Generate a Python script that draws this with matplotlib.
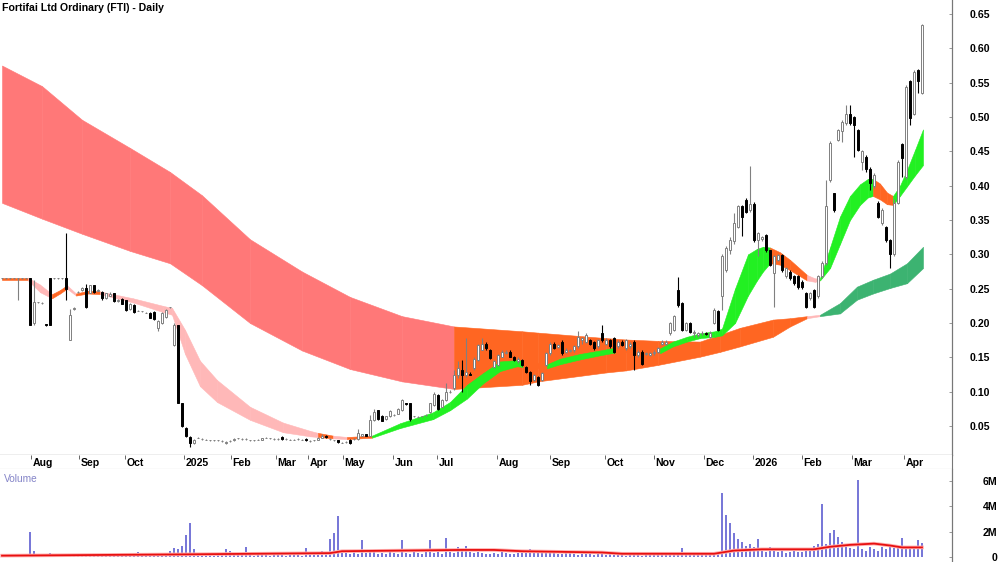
import matplotlib
matplotlib.use("Agg")
import matplotlib.pyplot as plt
from matplotlib.lines import Line2D
from matplotlib.ticker import FixedLocator, FuncFormatter

plt.rcParams["font.family"] = ["Liberation Sans", "DejaVu Sans"]

TITLE = "Fortifai Ltd Ordinary (FTI) - Daily"

# month labels and the bar index where each month starts
month_labels = ["Aug", "Sep", "Oct", "2025", "Feb", "Mar", "Apr", "May", "Jun", "Jul",
                "Aug", "Sep", "Oct", "Nov", "Dec", "2026", "Feb", "Mar", "Apr"]
month_pos = [7.25, 19.25, 30.75, 45.5, 57.25, 68.5, 76.5, 85.25, 97.75, 108.75,
             123.75, 137, 150.75, 163, 175.5, 187.75, 200, 212.5, 225.5]

price_ticks = [0.05, 0.10, 0.15, 0.20, 0.25, 0.30, 0.35, 0.40, 0.45, 0.50, 0.55, 0.60, 0.65]
vol_ticks = [0, 2, 4, 6]
vol_tick_labels = ["0", "2M", "4M", "6M"]

# daily candles, one entry per bar
opens = [
    .265, .265, .265, .265, .265, .265, .265, .265, .200, .230,  # 0
    .229, .198, .265, .265, .265, .265, .265, .175, .220, .245,  # 10
    .248, .251, .244, .255, .247, .245, .236, .240, .243, .232,  # 20
    .235, .233, .220, .226, .218, .217, .215, .215, .216, .193,  # 30
    .200, .209, .223, .168, .197, .083, .047, .034, .025, .033,  # 40
    .031, .030, .029, .029, .029, .028, .025, .028, .029, .032,  # 50
    .031, .031, .029, .029, .030, .030, .033, .032, .031, .031,  # 60
    .034, .031, .030, .030, .031, .030, .031, .028, .029, .030,  # 70
    .033, .036, .031, .029, .029, .026, .027, .030, .031, .031,  # 80
    .036, .038, .036, .059, .073, .065, .060, .064, .066, .068,  # 90
    .073, .083, .083, .064, .063, .064, .066, .070, .080, .095,  # 100
    .078, .088, .100, .105, .124, .132, .124, .126, .134, .146,  # 110
    .161, .170, .161, .136, .139, .151, .156, .158, .151, .144,  # 120
    .146, .136, .129, .117, .122, .117, .139, .156, .170, .165,  # 130
    .173, .158, .159, .160, .166, .175, .173, .175, .173, .166,  # 140
    .185, .170, .175, .178, .166, .173, .163, .166, .173, .153,  # 150
    .158, .155, .154, .156, .158, .170, .170, .185, .190, .248,  # 160
    .229, .190, .200, .185, .183, .185, .185, .180, .200, .217,  # 170
    .239, .277, .306, .319, .340, .370, .379, .365, .374, .321,  # 180
    .323, .328, .306, .273, .292, .299, .268, .275, .268, .268,  # 190
    .260, .243, .236, .248, .239, .268, .287, .408, .389, .467,  # 200
    .479, .491, .505, .500, .481, .435, .442, .425, .399, .375,  # 210
    .345, .340, .321, .300, .375, .460, .413, .552, .505, .568,  # 220
    .535,                                                        # 230
]
highs = [
    .266, .266, .266, .266, .265, .266, .266, .265, .263, .231,
    .230, .199, .265, .266, .266, .266, .331, .220, .223, .246,
    .253, .257, .256, .256, .249, .246, .244, .245, .244, .235,
    .236, .234, .229, .227, .219, .218, .216, .216, .217, .204,
    .216, .220, .224, .200, .197, .084, .048, .035, .031, .034,
    .032, .031, .030, .030, .030, .029, .028, .029, .032, .033,
    .032, .032, .030, .030, .031, .033, .034, .033, .032, .032,
    .035, .032, .031, .031, .032, .031, .032, .029, .030, .034,
    .039, .037, .032, .030, .030, .027, .028, .031, .032, .045,
    .039, .039, .066, .075, .074, .066, .065, .073, .067, .076,
    .090, .084, .084, .065, .064, .065, .067, .084, .100, .096,
    .089, .112, .102, .131, .144, .146, .178, .128, .150, .170,
    .178, .172, .162, .146, .155, .160, .160, .160, .152, .150,
    .147, .137, .130, .126, .123, .129, .158, .172, .172, .170,
    .175, .163, .162, .168, .188, .180, .185, .176, .174, .177,
    .197, .178, .176, .180, .175, .175, .177, .172, .175, .160,
    .160, .158, .158, .160, .165, .175, .175, .202, .212, .267,
    .230, .202, .201, .190, .187, .188, .187, .188, .222, .219,
    .300, .312, .325, .360, .372, .372, .382, .428, .376, .333,
    .327, .330, .307, .299, .301, .301, .282, .277, .270, .270,
    .262, .245, .245, .250, .270, .290, .408, .465, .390, .483,
    .495, .518, .518, .502, .483, .452, .444, .427, .418, .378,
    .367, .342, .322, .380, .437, .462, .546, .554, .568, .570,
    .636,
]
lows = [
    .264, .264, .264, .264, .233, .264, .264, .197, .197, .229,
    .228, .196, .197, .264, .264, .264, .233, .175, .219, .244,
    .246, .222, .243, .244, .246, .234, .235, .239, .231, .231,
    .227, .217, .219, .215, .217, .216, .214, .207, .205, .188,
    .199, .208, .222, .166, .083, .049, .034, .020, .024, .032,
    .030, .029, .028, .028, .028, .027, .024, .027, .028, .031,
    .030, .030, .028, .028, .029, .029, .032, .031, .030, .030,
    .030, .030, .029, .029, .030, .029, .028, .027, .028, .029,
    .032, .033, .030, .028, .026, .025, .026, .024, .030, .030,
    .035, .035, .035, .058, .059, .057, .059, .063, .065, .067,
    .072, .081, .058, .063, .062, .063, .065, .069, .079, .074,
    .077, .087, .098, .103, .120, .100, .122, .124, .132, .144,
    .160, .160, .147, .134, .137, .150, .155, .150, .145, .142,
    .137, .127, .110, .115, .108, .115, .137, .154, .162, .163,
    .154, .156, .158, .158, .164, .170, .171, .168, .161, .164,
    .173, .168, .164, .156, .164, .166, .161, .164, .131, .151,
    .139, .153, .152, .154, .156, .168, .168, .183, .188, .224,
    .188, .188, .185, .180, .180, .183, .182, .178, .198, .188,
    .219, .275, .300, .315, .338, .326, .360, .362, .318, .297,
    .320, .304, .283, .224, .290, .275, .266, .262, .255, .250,
    .250, .222, .234, .222, .237, .266, .285, .405, .362, .465,
    .464, .489, .489, .442, .450, .423, .420, .394, .396, .353,
    .343, .318, .280, .298, .373, .413, .410, .489, .503, .535,
    .533,
]
closes = [
    .265, .265, .265, .265, .265, .265, .265, .197, .230, .230,
    .229, .197, .197, .265, .265, .265, .250, .212, .222, .245,
    .251, .223, .255, .245, .248, .236, .243, .242, .232, .233,
    .228, .219, .228, .216, .218, .217, .215, .208, .206, .203,
    .214, .219, .223, .197, .083, .050, .035, .025, .030, .033,
    .031, .030, .029, .029, .029, .028, .027, .028, .031, .032,
    .031, .031, .029, .029, .030, .032, .033, .032, .031, .031,
    .031, .031, .030, .030, .031, .030, .029, .028, .029, .033,
    .036, .034, .031, .029, .027, .026, .027, .025, .031, .040,
    .038, .036, .059, .070, .060, .058, .064, .072, .066, .075,
    .088, .082, .060, .064, .063, .064, .066, .083, .097, .075,
    .088, .100, .100, .124, .134, .125, .128, .125, .148, .168,
    .170, .163, .149, .144, .153, .158, .158, .151, .146, .148,
    .139, .129, .115, .124, .110, .127, .156, .170, .163, .168,
    .156, .161, .160, .166, .180, .178, .183, .170, .163, .175,
    .175, .175, .166, .158, .173, .168, .175, .170, .153, .158,
    .141, .156, .156, .158, .163, .173, .172, .200, .210, .226,
    .190, .200, .187, .187, .185, .185, .184, .186, .219, .190,
    .297, .309, .321, .345, .370, .355, .362, .374, .321, .331,
    .325, .306, .285, .297, .299, .277, .280, .265, .258, .253,
    .253, .224, .243, .224, .268, .287, .370, .462, .365, .481,
    .493, .505, .491, .489, .452, .450, .425, .404, .416, .355,
    .365, .321, .300, .375, .435, .440, .544, .498, .566, .552,
    .634,
]

# daily volume in millions of shares
volume_m = [
    0.08, 0.05, 0.10, 0.06, 0.05, 0.08, 0.10, 2.00, 0.50, 0.15,
    0.10, 0.12, 0.30, 0.10, 0.08, 0.05, 0.20, 0.12, 0.10, 0.08,
    0.15, 0.10, 0.12, 0.08, 0.10, 0.15, 0.10, 0.12, 0.20, 0.10,
    0.08, 0.10, 0.15, 0.25, 0.40, 0.12, 0.10, 0.15, 0.20, 0.12,
    0.30, 0.15, 0.50, 0.70, 0.60, 0.90, 1.70, 2.70, 0.60, 0.30,
    0.20, 0.15, 0.20, 0.10, 0.15, 0.25, 0.60, 0.50, 0.30, 0.15,
    0.20, 0.80, 0.20, 0.10, 0.15, 0.20, 0.12, 0.10, 0.30, 0.15,
    0.20, 0.10, 0.12, 0.25, 0.15, 0.10, 0.70, 0.20, 0.15, 0.40,
    0.50, 0.30, 1.40, 1.90, 3.20, 0.50, 0.30, 0.20, 0.40, 0.25,
    1.30, 0.30, 0.40, 0.35, 0.25, 0.30, 0.20, 0.40, 0.30, 0.25,
    1.30, 0.30, 0.25, 0.40, 0.30, 0.20, 0.35, 1.30, 0.30, 0.40,
    0.25, 1.50, 0.40, 0.30, 0.80, 0.50, 0.90, 0.40, 0.30, 0.35,
    0.30, 0.20, 0.25, 0.30, 0.20, 0.35, 0.30, 0.25, 0.20, 0.30,
    0.40, 0.50, 0.60, 0.40, 0.55, 0.30, 0.45, 0.30, 0.50, 0.25,
    0.20, 0.30, 0.35, 0.20, 0.15, 0.25, 0.20, 0.30, 0.15, 0.20,
    0.25, 0.15, 0.20, 0.30, 0.15, 0.20, 0.10, 0.15, 0.20, 0.15,
    0.10, 0.20, 0.15, 0.25, 0.20, 0.15, 0.30, 0.20, 0.25, 0.30,
    0.70, 0.30, 0.20, 0.25, 0.30, 0.35, 0.30, 0.40, 0.30, 0.40,
    5.00, 3.30, 2.70, 1.90, 1.40, 1.20, 0.90, 1.00, 0.80, 1.40,
    0.50, 0.40, 0.80, 0.50, 0.40, 0.60, 0.30, 0.40, 0.50, 0.35,
    0.40, 0.50, 0.70, 0.90, 1.00, 4.20, 1.00, 1.90, 2.10, 1.60,
    1.20, 0.80, 0.70, 0.60, 6.10, 0.60, 0.50, 0.80, 0.60, 0.50,
    0.80, 0.60, 1.00, 0.70, 0.80, 1.50, 0.60, 0.90, 0.70, 1.30,
    1.10,
]

# volume moving average (millions)
vol_ma_x = [0, 45, 82, 85, 115, 123, 130, 150, 155, 178, 183, 190, 203, 207, 212, 218, 222, 225, 230]
vol_ma = [0.10, 0.20, 0.30, 0.45, 0.55, 0.55, 0.45, 0.35, 0.25, 0.25, 0.50, 0.60, 0.60, 0.80, 0.95, 1.05, 0.90, 0.75, 0.75]

# long-term moving average ribbon (upper / lower edge) and colour of each span
long_x = [0, 10, 20, 32, 42, 50, 62, 75, 87, 100, 113, 130, 134, 151, 156, 164, 174.5,
          179.5, 184.5, 192.75, 197, 201.25, 204.5, 209.5, 213.75, 217.75, 222, 226.25, 230.25]
long_top = [0.575, 0.545, 0.496, 0.455, 0.42, 0.386, 0.322, 0.275, 0.238, 0.21, 0.195, 0.188,
            0.186, 0.178, 0.176, 0.174, 0.173, 0.183, 0.193, 0.205, 0.207, 0.21, 0.212, 0.229,
            0.253, 0.263, 0.272, 0.287, 0.311]
long_bot = [0.375, 0.352, 0.33, 0.305, 0.287, 0.255, 0.2, 0.16, 0.133, 0.115, 0.104, 0.11,
            0.115, 0.128, 0.131, 0.139, 0.151, 0.158, 0.166, 0.18, 0.195, 0.207, 0.21, 0.214,
            0.234, 0.243, 0.251, 0.258, 0.28]
long_key = list("r" * 10 + "o" * 11 + "p" + "G" * 6)

# short-term moving average ribbon
short_x = [0, 6.5, 9.5, 12.5, 14.5, 16.25, 18.5, 21.5, 24.5, 32.75,
           40.25, 42.5, 45.75, 49.5, 53.75, 62, 70.25, 77, 79, 82.75,
           86.25, 92.5, 99.5, 107.75, 112, 116.25, 120.25, 124.5, 128.75, 130.25,
           136.25, 139.5, 144.5, 149.5, 153.25, 159.5, 164.5, 167.75, 171.25, 174.5,
           178.25, 180, 183.25, 186.5, 188.75, 190.25, 192, 194.5, 197, 201.25,
           203.25, 204.5, 207, 209.5, 212, 214.5, 216.5, 217.75, 219.5, 221.25,
           222.75, 224.5, 226.25, 228.25, 230.25]
short_top = [0.266, 0.266, 0.256, 0.242, 0.248, 0.255, 0.243, 0.247, 0.246, 0.236,
             0.225, 0.222, 0.19, 0.145, 0.117, 0.078, 0.055, 0.043, 0.04, 0.036,
             0.034, 0.036, 0.054, 0.07, 0.085, 0.11, 0.127, 0.144, 0.146, 0.145,
             0.14, 0.148, 0.155, 0.16, 0.164, 0.163, 0.163, 0.173, 0.18, 0.185,
             0.188, 0.192, 0.25, 0.3, 0.308, 0.311, 0.31, 0.303, 0.292, 0.27,
             0.265, 0.265, 0.31, 0.355, 0.385, 0.402, 0.41, 0.41, 0.403, 0.39,
             0.385, 0.4, 0.423, 0.452, 0.482]
short_bot = [0.262, 0.262, 0.245, 0.236, 0.243, 0.25, 0.24, 0.243, 0.242, 0.23,
             0.216, 0.212, 0.155, 0.108, 0.085, 0.059, 0.041, 0.035, 0.034, 0.032,
             0.031, 0.033, 0.047, 0.06, 0.073, 0.09, 0.112, 0.13, 0.137, 0.136,
             0.134, 0.14, 0.147, 0.153, 0.157, 0.158, 0.156, 0.166, 0.173, 0.178,
             0.18, 0.182, 0.2, 0.24, 0.262, 0.275, 0.287, 0.285, 0.277, 0.262,
             0.26, 0.262, 0.28, 0.315, 0.35, 0.372, 0.383, 0.385, 0.38, 0.373,
             0.372, 0.385, 0.399, 0.415, 0.43]
short_key = list("oppoopoopp" "ppppppppop" "oggggggggo" "ggggoogggg"
                 "ggggggooop" "pggggggooo" "gggg")

RIBBON_COLORS = {
    "r": "#FF7878",
    "o": "#FF6622",
    "p": "#FFB8B8",
    "g": "#22F022",
    "G": "#3CB371",
}

W, H = 1000, 562
fig = plt.figure(figsize=(W / 100, H / 100), dpi=100)
right = 952 / W
ax = fig.add_axes([0, 1 - 455 / H, right, 455 / H])
ax_dates = fig.add_axes([0, 1 - 469 / H, right, 14 / H])
ax_vol = fig.add_axes([0, 0, right, 1 - 469 / H])

xlim = (-0.5, 237.5)


def draw_ribbon(axis, xs, tops, bots, keys, z):
    for k, key in enumerate(keys):
        c = RIBBON_COLORS[key]
        axis.fill_between(xs[k:k + 2], bots[k:k + 2], tops[k:k + 2],
                          facecolor=c, edgecolor=c, linewidth=0.4, zorder=z)


draw_ribbon(ax, long_x, long_top, long_bot, long_key, 1)
draw_ribbon(ax, short_x, short_top, short_bot, short_key, 2)

# candles
idx = list(range(len(closes)))
down = [c < o for o, c in zip(opens, closes)]
edge = ["#000000" if d else "#808080" for d in down]
face = ["#000000" if d else "#FFFFFF" for d in down]
ax.vlines(idx, lows, highs, colors=edge, linewidth=0.8, zorder=3)
ax.bar(idx, [abs(c - o) for o, c in zip(opens, closes)],
       bottom=[min(o, c) for o, c in zip(opens, closes)],
       width=0.62, color=face, edgecolor=edge, linewidth=0.7, zorder=4)

ax.set_xlim(*xlim)
ax.set_ylim(0.0078, 0.6704)
ax.yaxis.tick_right()
ax.yaxis.set_major_locator(FixedLocator(price_ticks))
ax.yaxis.set_major_formatter(FuncFormatter(lambda v, p: f"{v:.2f}"))
ax.tick_params(axis="y", direction="in", length=2, width=0.6, color="#888888",
               pad=27.4, labelsize=7.6)
for lab in ax.get_yticklabels():
    lab.set_fontweight("bold")
    lab.set_horizontalalignment("right")
ax.set_xticks([])
for s in ("top", "left"):
    ax.spines[s].set_visible(False)
ax.spines["right"].set_color("#777777")
ax.spines["bottom"].set_color("#aaaaaa")
ax.spines["bottom"].set_linewidth(1.0)

# date strip
ax_dates.set_xlim(*xlim)
ax_dates.set_ylim(0, 1)
ax_dates.set_yticks([])
ax_dates.set_xticks([])
for s in ("top", "left", "right"):
    ax_dates.spines[s].set_visible(False)
ax_dates.spines["bottom"].set_color("#aaaaaa")
ax_dates.vlines(month_pos, 0.72, 1.0, colors="#666666", linewidth=0.7)
for pos, lab in zip(month_pos, month_labels):
    ax_dates.text(pos + 0.4, 0.42, lab, fontsize=7.6, fontweight="bold",
                  ha="left", va="center")

# volume
ax_vol.bar(idx, volume_m, width=0.35, color="#7878D8", linewidth=0, zorder=2)
ax_vol.plot(vol_ma_x, vol_ma, color="#FFB0B0", linewidth=2.6, zorder=3)
ax_vol.plot(vol_ma_x, vol_ma, color="#E81010", linewidth=1.3, zorder=4)
ax_vol.set_xlim(*xlim)
ax_vol.set_ylim(-0.4, 6.93)
ax_vol.yaxis.tick_right()
ax_vol.set_yticks(vol_ticks)
ax_vol.set_yticklabels(vol_tick_labels)
ax_vol.tick_params(axis="y", direction="in", length=2, width=0.6, color="#888888",
                   pad=32.5, labelsize=7.6)
for lab in ax_vol.get_yticklabels():
    lab.set_fontweight("bold")
    lab.set_horizontalalignment("right")
ax_vol.set_xticks([])
for s in ("top", "left", "bottom"):
    ax_vol.spines[s].set_visible(False)
ax_vol.spines["right"].set_color("#777777")
ax_vol.text(0.004, 0.89, "Volume", transform=ax_vol.transAxes, color="#8484C8",
            fontsize=7.3, ha="left", va="center")

fig.add_artist(Line2D([right, right], [0, 1], transform=fig.transFigure,
                      color="#777777", linewidth=0.8))
fig.text(0.002, 0.986, TITLE, fontsize=7.6, fontweight="bold", ha="left", va="center")

fig.savefig("out.png", dpi=100)
